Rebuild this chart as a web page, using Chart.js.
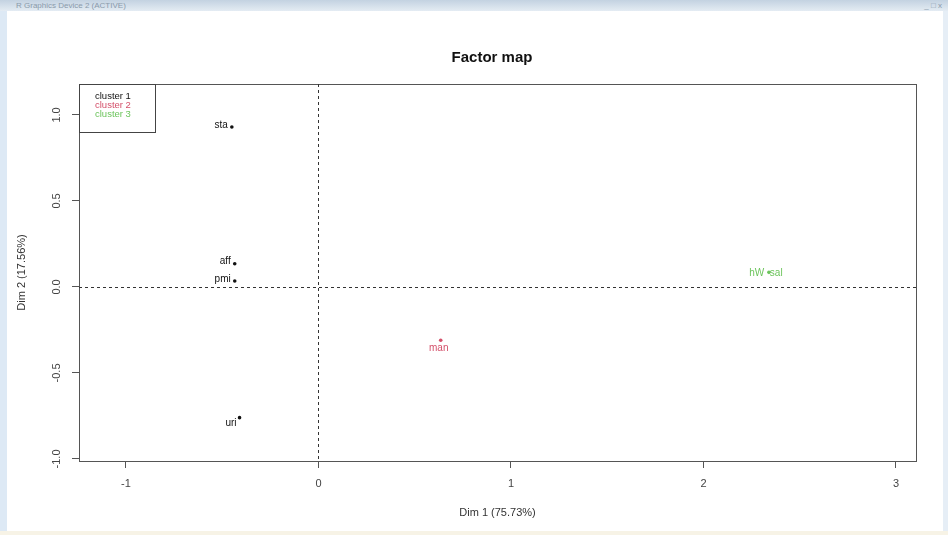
<!DOCTYPE html>
<html>
<head>
<meta charset="utf-8">
<script src="https://cdn.jsdelivr.net/npm/chart.js@4"></script>
<style>
  body { margin: 0; width: 948px; height: 535px; background: #fff; overflow: hidden; font-family: 'Liberation Sans', Arial, sans-serif; }
  #titlebar { position: absolute; left: 0; top: 0; width: 948px; height: 11px; background: linear-gradient(#c3d2e1, #e4ecf3); }
  #titlebar span { position: absolute; left: 16px; top: 0; font-size: 8px; color: #8a9aab; line-height: 11px; }
  #titlebar i { position: absolute; right: 6px; top: 1px; font-size: 8px; color: #8a9aab; font-style: normal; }
  #leftedge { position: absolute; left: 0; top: 11px; width: 7px; height: 524px; background: #dde9f5; }
  #rightedge { position: absolute; right: 0; top: 11px; width: 5px; height: 524px; background: #e6eef6; }
  #bottomedge { position: absolute; left: 0; bottom: 0; width: 948px; height: 4px; background: #f7f3e6; }
  #wrap { position: absolute; left: 0; top: 0; width: 948px; height: 535px; }
</style>
</head>
<body>
<div id="titlebar"><span>R Graphics Device 2 (ACTIVE)</span><i>_ &#9633; x</i></div>
<div id="leftedge"></div>
<div id="rightedge"></div>
<div id="bottomedge"></div>
<div id="wrap"><canvas id="chart" width="948" height="535"></canvas></div>
<script>
document.addEventListener('DOMContentLoaded', () => {
    // cluster 1
    const c1Names = ['sta', 'aff', 'pmi', 'uri'];
    const c1X = [-0.45, -0.435, -0.435, -0.41];
    const c1Y = [0.93, 0.135, 0.035, -0.76];
    // cluster 2
    const c2Names = ['man'];
    const c2X = [0.635];
    const c2Y = [-0.31];
    // cluster 3
    const c3Names = ['hW  sal'];
    const c3X = [2.34];
    const c3Y = [0.085];

    const legendLabels = ['cluster 1', 'cluster 2', 'cluster 3'];
    const xTicks = [-1, 0, 1, 2, 3];
    const yTicks = [-1.0, -0.5, 0.0, 0.5, 1.0];

    const colors = ['#111111', '#d4506a', '#6cc45c'];

    const toPoints = (xs, ys) => xs.map((x, i) => ({ x: x, y: ys[i] }));

    // label placement: 'left', 'below', 'center'
    const labelInfo = [
        { names: c1Names, pos: ['left', 'left', 'left', 'lowleft'] },
        { names: c2Names, pos: ['below'] },
        { names: c3Names, pos: ['center'] }
    ];

    const decor = {
        id: 'decor',
        beforeDatasetsDraw(chart) {
            const ctx = chart.ctx;
            const a = chart.chartArea;
            const xs = chart.scales.x, ys = chart.scales.y;
            ctx.save();
            // box
            ctx.strokeStyle = '#555';
            ctx.lineWidth = 1;
            ctx.strokeRect(a.left + 0.5, a.top + 0.5, a.right - a.left, a.bottom - a.top);
            // dashed zero lines
            ctx.strokeStyle = '#333';
            ctx.setLineDash([3, 3]);
            const x0 = Math.round(xs.getPixelForValue(0)) + 0.5;
            const y0 = Math.round(ys.getPixelForValue(0)) + 0.5;
            ctx.beginPath();
            ctx.moveTo(x0, a.top); ctx.lineTo(x0, a.bottom);
            ctx.moveTo(a.left, y0); ctx.lineTo(a.right, y0);
            ctx.stroke();
            ctx.setLineDash([]);
            ctx.restore();
        },
        afterDraw(chart) {
            const ctx = chart.ctx;
            const a = chart.chartArea;
            const xs = chart.scales.x, ys = chart.scales.y;
            ctx.save();
            // title
            ctx.fillStyle = '#111';
            ctx.font = 'bold 15px "Liberation Sans", Arial, sans-serif';
            ctx.textAlign = 'center';
            ctx.textBaseline = 'middle';
            ctx.fillText('Factor map', 492, 58);

            // y tick labels, rotated like R
            ctx.font = '11px "Liberation Sans", Arial, sans-serif';
            ctx.fillStyle = '#444';
            yTicks.forEach(v => {
                const py = ys.getPixelForValue(v);
                ctx.save();
                ctx.translate(57, py);
                ctx.rotate(-Math.PI / 2);
                ctx.fillText(v.toFixed(1), 0, 0);
                ctx.restore();
            });

            // point labels
            ctx.font = '10px "Liberation Sans", Arial, sans-serif';
            labelInfo.forEach((info, di) => {
                const data = chart.data.datasets[di].data;
                ctx.fillStyle = colors[di];
                info.names.forEach((name, i) => {
                    const px = xs.getPixelForValue(data[i].x);
                    const py = ys.getPixelForValue(data[i].y);
                    const p = info.pos[i];
                    if (p === 'left') {
                        ctx.textAlign = 'right';
                        ctx.fillText(name, px - 4, py - 2);
                    } else if (p === 'lowleft') {
                        ctx.textAlign = 'right';
                        ctx.fillText(name, px - 3, py + 6);
                    } else if (p === 'below') {
                        ctx.textAlign = 'center';
                        ctx.fillText(name, px - 2, py + 8);
                    } else {
                        ctx.textAlign = 'center';
                        ctx.fillText(name, px - 3, py + 1);
                    }
                });
            });

            // legend box
            const lx = a.left, ly = a.top;
            ctx.strokeStyle = '#444';
            ctx.strokeRect(lx + 0.5, ly + 0.5, 76, 48);
            ctx.font = '9.5px "Liberation Sans", Arial, sans-serif';
            ctx.textAlign = 'left';
            legendLabels.forEach((t, i) => {
                ctx.fillStyle = colors[i];
                ctx.fillText(t, lx + 16, ly + 12 + i * 9);
            });
            ctx.restore();
        }
    };

    new Chart(document.getElementById('chart'), {
        type: 'scatter',
        data: {
            datasets: [
                { label: legendLabels[0], data: toPoints(c1X, c1Y), backgroundColor: colors[0], borderColor: colors[0] },
                { label: legendLabels[1], data: toPoints(c2X, c2Y), backgroundColor: colors[1], borderColor: colors[1] },
                { label: legendLabels[2], data: toPoints(c3X, c3Y), backgroundColor: colors[2], borderColor: colors[2] }
            ]
        },
        options: {
            responsive: false,
            animation: false,
            layout: { padding: { left: 0, right: 32, top: 84, bottom: 0 } },
            elements: { point: { radius: 1.8, borderWidth: 0 } },
            plugins: { legend: { display: false }, tooltip: { enabled: false } },
            scales: {
                x: {
                    type: 'linear',
                    min: -1.244,
                    max: 3.104,
                    afterBuildTicks: (s) => { s.ticks = xTicks.map(v => ({ value: v })); },
                    afterFit: (s) => { s.height = 74; },
                    grid: { drawOnChartArea: false, drawTicks: true, tickLength: 7, color: '#555' },
                    border: { display: true, color: '#555' },
                    ticks: {
                        color: '#444', padding: 9, maxRotation: 0,
                        font: { family: '"Liberation Sans", Arial, sans-serif', size: 11 },
                        callback: (v) => String(v)
                    },
                    title: {
                        display: true, text: 'Dim 1 (75.73%)', color: '#333',
                        font: { family: '"Liberation Sans", Arial, sans-serif', size: 11 },
                        padding: { top: 0, bottom: 15 }
                    }
                },
                y: {
                    type: 'linear',
                    min: -1.012,
                    max: 1.18,
                    afterBuildTicks: (s) => { s.ticks = yTicks.map(v => ({ value: v })); },
                    afterFit: (s) => { s.width = 79; },
                    grid: { drawOnChartArea: false, drawTicks: true, tickLength: 7, color: '#555' },
                    border: { display: true, color: '#555' },
                    ticks: { display: false },
                    title: {
                        display: true, text: 'Dim 2 (17.56%)', color: '#333',
                        font: { family: '"Liberation Sans", Arial, sans-serif', size: 11 },
                        padding: { top: 15, bottom: 0 }
                    }
                }
            }
        },
        plugins: [decor]
    });
});
</script>
</body>
</html>
